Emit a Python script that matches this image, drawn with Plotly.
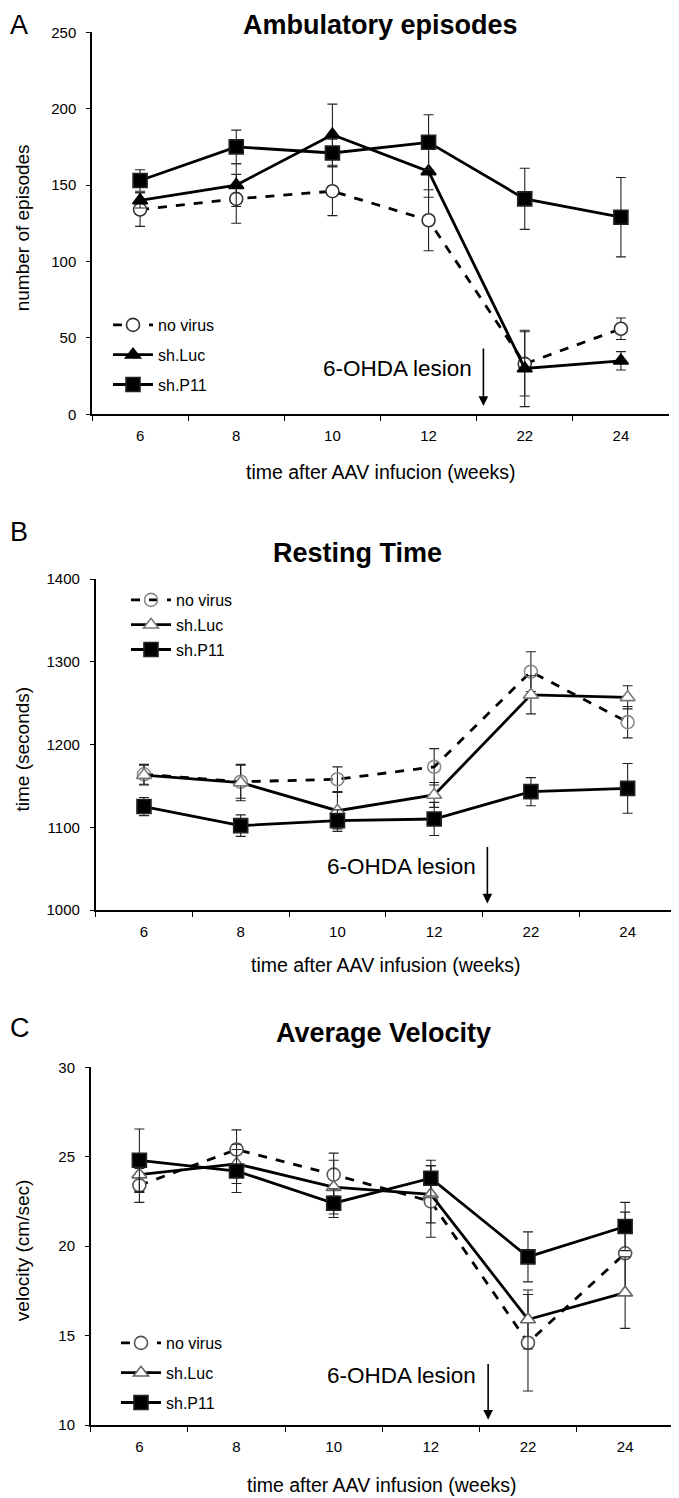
import plotly.graph_objects as go

# page body has an 8px default margin; the figure is sized so it fills the rest of the window
OFF = 8
W, H = 679 - OFF, 1498 - OFF

weeks = ["6", "8", "10", "12", "22", "24"]
series_names = ["no virus", "sh.Luc", "sh.P11"]

# Panel A: Ambulatory episodes
amb_novirus = [134, 141, 146, 127, 33, 56]
amb_novirus_err = [11, 16, 16, 20, 21, 7]
amb_shluc = [140, 150, 183, 159, 30, 35]
amb_shluc_err = [5, 14, 20, 17, 25, 6]
amb_shp11 = [153, 175, 171, 178, 141, 129]
amb_shp11_err = [7, 11, 9, 18, 20, 26]
amb_stars = ["", "", "", "", "***", "***"]

# Panel B: Resting time
rest_novirus = [1164, 1155, 1158, 1173, 1288, 1227]
rest_novirus_err = [12, 20, 15, 22, 24, 19]
rest_shluc = [1163, 1154, 1120, 1139, 1260, 1257]
rest_shluc_err = [12, 22, 22, 15, 23, 14]
rest_shp11 = [1125, 1102, 1108, 1110, 1143, 1147]
rest_shp11_err = [11, 13, 13, 20, 17, 30]
rest_stars = ["", "", "", "", "**", "**"]

# Panel C: Average velocity
vel_novirus = [23.4, 25.4, 24.0, 22.5, 14.6, 19.6]
vel_novirus_err = [0.95, 1.1, 1.2, 2.0, 2.7, 2.3]
vel_shluc = [24.0, 24.6, 23.3, 22.9, 15.9, 17.4]
vel_shluc_err = [1.0, 1.1, 1.5, 1.6, 1.65, 2.0]
vel_shp11 = [24.8, 24.2, 22.4, 23.8, 19.4, 21.1]
vel_shp11_err = [1.75, 1.2, 0.8, 1.0, 1.4, 1.35]
vel_stars = ["", "", "", "", "*", "*"]

FONT = "Liberation Sans Narrow, Arial Narrow, Liberation Sans, Arial, sans-serif"
REG = "Liberation Sans, Arial, sans-serif"


def px_x(p):
    return (p - OFF) / W


def px_y(p):
    return 1 - (p - OFF) / H


panels = [
    dict(xa="x", ya="y", leg="legend",
         xdom=[92, 669], ydom=[32.3, 414.3], yrange=[0, 250], dtick=50,
         data=[(amb_novirus, amb_novirus_err), (amb_shluc, amb_shluc_err), (amb_shp11, amb_shp11_err)],
         styles=[
             dict(symbol="circle", fill="white", edge="#333333", dash="dash"),
             dict(symbol="triangle-up", fill="black", edge="black", dash="solid"),
             dict(symbol="square", fill="black", edge="#222222", dash="solid"),
         ],
         stars=amb_stars, star_y=172, star_size=30,
         arrow=dict(x=3.57, top=44, bottom=5.5, ty=30),
         title="Ambulatory episodes", title_y=8.5, title_x=380, title_anchor="top",
         letter="A", letter_y=8.5, letter_anchor="top",
         ytitle="number of episodes", xtitle="time after AAV infucion (weeks)", xtitle_y=472,
         legend_pos=(108, 308), gap=6),
    dict(xa="x2", ya="y2", leg="legend2",
         xdom=[95.6, 676], ydom=[579, 910], yrange=[1000, 1400], dtick=100,
         data=[(rest_novirus, rest_novirus_err), (rest_shluc, rest_shluc_err), (rest_shp11, rest_shp11_err)],
         styles=[
             dict(symbol="circle", fill="rgba(255,255,255,0)", edge="#8a8a8a", dash="dash"),
             dict(symbol="triangle-up", fill="white", edge="#7a7a7a", dash="solid"),
             dict(symbol="square", fill="black", edge="#222222", dash="solid"),
         ],
         stars=rest_stars, star_y=1194, star_size=30,
         arrow=dict(x=3.55, top=1078, bottom=1008, ty=1053),
         title="Resting Time", title_y=553, title_x=357, title_anchor="middle",
         letter="B", letter_y=532, letter_anchor="middle",
         ytitle="time (seconds)", xtitle="time after AAV infusion (weeks)", xtitle_y=965,
         legend_pos=(126, 583), gap=1),
    dict(xa="x3", ya="y3", leg="legend3",
         xdom=[90.8, 673.7], ydom=[1067.3, 1425], yrange=[10, 30], dtick=5,
         data=[(vel_novirus, vel_novirus_err), (vel_shluc, vel_shluc_err), (vel_shp11, vel_shp11_err)],
         styles=[
             dict(symbol="circle", fill="white", edge="#555555", dash="dash"),
             dict(symbol="triangle-up", fill="white", edge="#666666", dash="solid"),
             dict(symbol="square", fill="black", edge="#222222", dash="solid"),
         ],
         stars=vel_stars, star_y=23.5, star_size=30,
         arrow=dict(x=3.59, top=13.5, bottom=10.3, ty=12.75),
         title="Average Velocity", title_y=1033, title_x=383, title_anchor="middle",
         letter="C", letter_y=1028, letter_anchor="middle",
         ytitle="velocity (cm/sec)", xtitle="time after AAV infusion (weeks)", xtitle_y=1485,
         legend_pos=(116, 1326), gap=6),
]

fig = go.Figure()
annotations = []
layout = dict(
    width=W, height=H,
    margin=dict(l=0, r=0, t=0, b=0),
    paper_bgcolor="white", plot_bgcolor="white",
    showlegend=True,
    font=dict(family=FONT, size=15, color="black"),
)

for i, p in enumerate(panels):
    sfx = "" if i == 0 else str(i + 1)
    for k, ((vals, errs), st) in enumerate(zip(p["data"], p["styles"])):
        fig.add_trace(go.Scatter(
            x=weeks, y=vals,
            mode="lines+markers",
            name=series_names[k],
            legend=p["leg"],
            legendgroup=p["leg"] + str(k),
            xaxis=p["xa"], yaxis=p["ya"],
            line=dict(color="black", width=2.8, dash="dash" if st["dash"] == "dash" else "solid"),
            marker=dict(symbol=st["symbol"], size=13 if st["symbol"] != "square" else 14,
                        color=st["fill"], line=dict(color=st["edge"], width=1.6)),
            error_y=dict(type="data", array=errs, visible=True, thickness=1.1, width=5, color="#222222"),
            cliponaxis=False,
        ))
    layout["xaxis" + sfx] = dict(
        domain=[px_x(p["xdom"][0]), px_x(p["xdom"][1])],
        anchor=p["ya"], type="category", categoryorder="array", categoryarray=weeks,
        range=[-0.5, 5.5], tickson="boundaries", ticks="outside", ticklen=5, tickwidth=1.2,
        tickcolor="black", showline=True, linecolor="black", linewidth=1.5, ticklabelstandoff=7,
        showgrid=False, zeroline=False, automargin=False,
        tickfont=dict(family=FONT, size=15, color="black"),
    )
    layout["yaxis" + sfx] = dict(
        domain=[px_y(p["ydom"][1]), px_y(p["ydom"][0])],
        anchor=p["xa"], range=p["yrange"], dtick=p["dtick"], tick0=p["yrange"][0],
        ticks="outside", ticklen=4, tickwidth=1.2, tickcolor="black", ticklabelstandoff=7,
        showline=True, linecolor="black", linewidth=1.5,
        showgrid=False, zeroline=False, automargin=False,
        tickfont=dict(family=FONT, size=15, color="black"),
    )
    layout[p["leg"]] = dict(
        x=px_x(p["legend_pos"][0]), y=px_y(p["legend_pos"][1]),
        xanchor="left", yanchor="top", bgcolor="rgba(0,0,0,0)",
        font=dict(family=FONT, size=16, color="black"),
        itemwidth=40, tracegroupgap=p["gap"], traceorder="grouped",
    )
    # significance stars
    for wk, s in zip(weeks, p["stars"]):
        if s:
            annotations.append(dict(x=wk, y=p["star_y"], xref=p["xa"], yref=p["ya"], text="<b>" + s + "</b>",
                                    showarrow=False, font=dict(family=REG, size=p["star_size"], color="black"),
                                    yanchor="middle"))
    # lesion arrow
    a = p["arrow"]
    annotations.append(dict(x=a["x"], y=a["bottom"], ax=a["x"], ay=a["top"], xref=p["xa"], yref=p["ya"],
                            axref=p["xa"], ayref=p["ya"], text="", showarrow=True, arrowhead=2,
                            arrowsize=1.2, arrowwidth=1.6, arrowcolor="black"))
    annotations.append(dict(x=a["x"] - 0.1, y=a["ty"], xref=p["xa"], yref=p["ya"], text="6-OHDA lesion",
                            showarrow=False, xanchor="right", yanchor="middle",
                            font=dict(family=FONT, size=22.5, color="black")))
    # titles
    annotations.append(dict(x=px_x(p["title_x"]), y=px_y(p["title_y"]), xref="paper", yref="paper",
                            text="<b>" + p["title"] + "</b>", showarrow=False, xanchor="center",
                            yanchor=p["title_anchor"], borderpad=0,
                            font=dict(family=FONT, size=27, color="black")))
    annotations.append(dict(x=px_x(9), y=px_y(p["letter_y"]), xref="paper", yref="paper",
                            text=p["letter"], showarrow=False, xanchor="left",
                            yanchor=p["letter_anchor"], borderpad=0,
                            font=dict(family=FONT, size=27, color="black")))
    annotations.append(dict(x=px_x(22), y=px_y((p["ydom"][0] + p["ydom"][1]) / 2 + 5), xref="paper", yref="paper",
                            text=p["ytitle"], showarrow=False, textangle=-90, xanchor="center", yanchor="middle",
                            font=dict(family=REG, size=19, color="black")))
    annotations.append(dict(x=px_x((p["xdom"][0] + p["xdom"][1]) / 2), y=px_y(p["xtitle_y"]), xref="paper", yref="paper",
                            text=p["xtitle"], showarrow=False, xanchor="center", yanchor="middle",
                            font=dict(family=FONT, size=19.5, color="black")))

layout["annotations"] = annotations
fig.update_layout(**layout)
fig.write_html("out.html")
